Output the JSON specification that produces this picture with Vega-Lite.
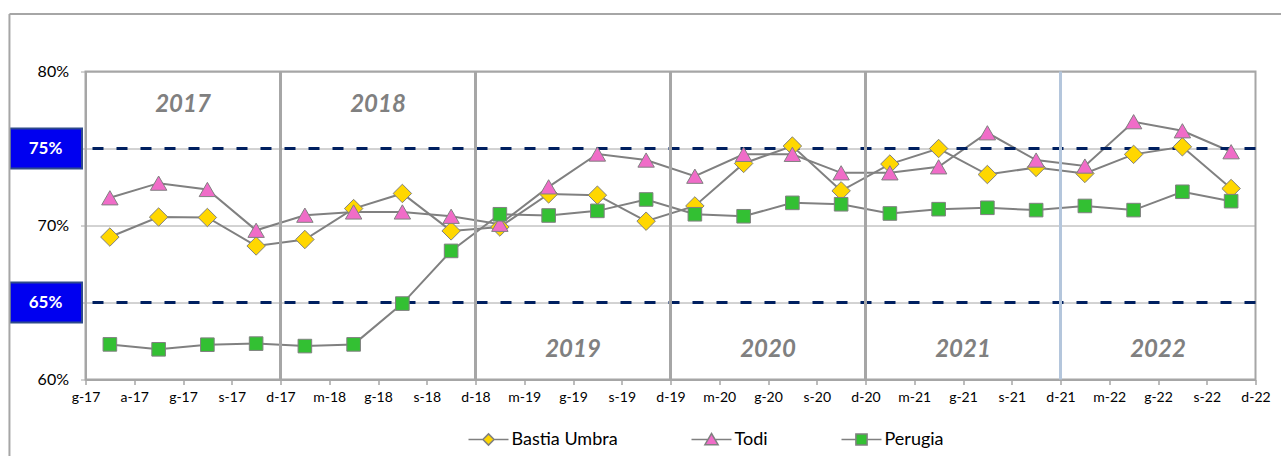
{
  "$schema": "https://vega.github.io/schema/vega-lite/v6.json",
  "width": 1170,
  "height": 308,
  "autosize": {"type": "none"},
  "padding": {"left": 85.5, "top": 71.5, "right": 25.5, "bottom": 76.5},
  "background": "white",
  "config": {
    "view": {"stroke": "#A6A6A6", "strokeWidth": 2},
    "font": "Lato",
    "axisX": {"grid": false, "tickSize": 5, "tickColor": "#A6A6A6", "tickWidth": 1.5, "domainColor": "#A6A6A6", "domainWidth": 2,
      "labelFontSize": 14, "labelColor": "#000000", "labelPadding": 6, "labelOverlap": false, "labelFlush": false, "labelBound": false, "labelFont": "Lato"},
    "axisY": {"grid": true, "gridColor": "#A6A6A6", "gridWidth": 1, "tickSize": 5, "tickColor": "#A6A6A6", "domainColor": "#A6A6A6", "domainWidth": 2,
      "labelFontSize": 16, "labelColor": "#000000", "labelPadding": 12, "labelFont": "Lato"}
  },
  "datasets": {
    "series": [
      {"p": 1, "series": "Bastia Umbra", "v": 69.25}, {"p": 2, "series": "Bastia Umbra", "v": 70.55}, {"p": 3, "series": "Bastia Umbra", "v": 70.52}, {"p": 4, "series": "Bastia Umbra", "v": 68.67},
      {"p": 5, "series": "Bastia Umbra", "v": 69.09}, {"p": 6, "series": "Bastia Umbra", "v": 71.1}, {"p": 7, "series": "Bastia Umbra", "v": 72.08}, {"p": 8, "series": "Bastia Umbra", "v": 69.65},
      {"p": 9, "series": "Bastia Umbra", "v": 69.9}, {"p": 10, "series": "Bastia Umbra", "v": 72.05}, {"p": 11, "series": "Bastia Umbra", "v": 71.97}, {"p": 12, "series": "Bastia Umbra", "v": 70.28},
      {"p": 13, "series": "Bastia Umbra", "v": 71.27}, {"p": 14, "series": "Bastia Umbra", "v": 74.03}, {"p": 15, "series": "Bastia Umbra", "v": 75.16}, {"p": 16, "series": "Bastia Umbra", "v": 72.25},
      {"p": 17, "series": "Bastia Umbra", "v": 73.99}, {"p": 18, "series": "Bastia Umbra", "v": 75.0}, {"p": 19, "series": "Bastia Umbra", "v": 73.31}, {"p": 20, "series": "Bastia Umbra", "v": 73.77},
      {"p": 21, "series": "Bastia Umbra", "v": 73.38}, {"p": 22, "series": "Bastia Umbra", "v": 74.62}, {"p": 23, "series": "Bastia Umbra", "v": 75.11}, {"p": 24, "series": "Bastia Umbra", "v": 72.4},
      {"p": 1, "series": "Todi", "v": 71.8}, {"p": 2, "series": "Todi", "v": 72.75}, {"p": 3, "series": "Todi", "v": 72.34}, {"p": 4, "series": "Todi", "v": 69.69},
      {"p": 5, "series": "Todi", "v": 70.67}, {"p": 6, "series": "Todi", "v": 70.88}, {"p": 7, "series": "Todi", "v": 70.88}, {"p": 8, "series": "Todi", "v": 70.6},
      {"p": 9, "series": "Todi", "v": 70.08}, {"p": 10, "series": "Todi", "v": 72.51}, {"p": 11, "series": "Todi", "v": 74.64}, {"p": 12, "series": "Todi", "v": 74.25},
      {"p": 13, "series": "Todi", "v": 73.2}, {"p": 14, "series": "Todi", "v": 74.62}, {"p": 15, "series": "Todi", "v": 74.62}, {"p": 16, "series": "Todi", "v": 73.42},
      {"p": 17, "series": "Todi", "v": 73.42}, {"p": 18, "series": "Todi", "v": 73.81}, {"p": 19, "series": "Todi", "v": 76.02}, {"p": 20, "series": "Todi", "v": 74.25},
      {"p": 21, "series": "Todi", "v": 73.86}, {"p": 22, "series": "Todi", "v": 76.74}, {"p": 23, "series": "Todi", "v": 76.15}, {"p": 24, "series": "Todi", "v": 74.79},
      {"p": 1, "series": "Perugia", "v": 62.28}, {"p": 2, "series": "Perugia", "v": 61.96}, {"p": 3, "series": "Perugia", "v": 62.26}, {"p": 4, "series": "Perugia", "v": 62.33},
      {"p": 5, "series": "Perugia", "v": 62.17}, {"p": 6, "series": "Perugia", "v": 62.28}, {"p": 7, "series": "Perugia", "v": 64.93}, {"p": 8, "series": "Perugia", "v": 68.35},
      {"p": 9, "series": "Perugia", "v": 70.73}, {"p": 10, "series": "Perugia", "v": 70.65}, {"p": 11, "series": "Perugia", "v": 70.95}, {"p": 12, "series": "Perugia", "v": 71.69},
      {"p": 13, "series": "Perugia", "v": 70.73}, {"p": 14, "series": "Perugia", "v": 70.6}, {"p": 15, "series": "Perugia", "v": 71.47}, {"p": 16, "series": "Perugia", "v": 71.38},
      {"p": 17, "series": "Perugia", "v": 70.78}, {"p": 18, "series": "Perugia", "v": 71.06}, {"p": 19, "series": "Perugia", "v": 71.15}, {"p": 20, "series": "Perugia", "v": 71.0},
      {"p": 21, "series": "Perugia", "v": 71.27}, {"p": 22, "series": "Perugia", "v": 71.0}, {"p": 23, "series": "Perugia", "v": 72.19}, {"p": 24, "series": "Perugia", "v": 71.58}
    ],
    "years": [
      {"year": "2017", "mid": 2.5, "end": 4.5},
      {"year": "2018", "mid": 6.5, "end": 8.5},
      {"year": "2019", "mid": 10.5, "end": 12.5},
      {"year": "2020", "mid": 14.5, "end": 16.5},
      {"year": "2021", "mid": 18.5, "end": 20.5},
      {"year": "2022", "mid": 22.5, "end": 24.5}
    ],
    "thresholds": [
      {"label": "75%", "v": 75},
      {"label": "65%", "v": 65}
    ],
    "frame": [{"part": "frame"}]
  },
  "layer": [
    {
      "data": {"name": "series"},
      "mark": {"type": "line", "color": "#808080", "strokeWidth": 2},
      "encoding": {
        "x": {"field": "p", "type": "quantitative", "title": null, "scale": {"domain": [0.5, 24.5], "nice": false, "zero": false},
          "axis": {"values": [0.5, 1.5, 2.5, 3.5, 4.5, 5.5, 6.5, 7.5, 8.5, 9.5, 10.5, 11.5, 12.5, 13.5, 14.5, 15.5, 16.5, 17.5, 18.5, 19.5, 20.5, 21.5, 22.5, 23.5, 24.5],
            "labelExpr": "['g-17','a-17','g-17','s-17','d-17','m-18','g-18','s-18','d-18','m-19','g-19','s-19','d-19','m-20','g-20','s-20','d-20','m-21','g-21','s-21','d-21','m-22','g-22','s-22','d-22'][round(datum.value - 0.5)]", "title": null}},
        "y": {"field": "v", "type": "quantitative", "title": null, "scale": {"domain": [60, 80], "nice": false, "zero": false},
          "axis": {"values": [60, 65, 70, 75, 80], "labelExpr": "datum.value % 10 == 5 ? '' : datum.value + '%'", "title": null}},
        "detail": {"field": "series", "type": "nominal"}
      }
    },
    {
      "data": {"name": "thresholds"},
      "mark": {"type": "rule", "color": "#002060", "strokeWidth": 3, "strokeDash": [11, 13]},
      "encoding": {
        "y": {"field": "v", "type": "quantitative", "title": null, "scale": {"domain": [60, 80], "nice": false, "zero": false}}
      }
    },
    {
      "data": {"name": "years"},
      "transform": [{"filter": "datum.year != '2022'"}],
      "mark": {"type": "rule", "strokeWidth": 3},
      "encoding": {
        "x": {"field": "end", "type": "quantitative", "title": null, "scale": {"domain": [0.5, 24.5], "nice": false, "zero": false}},
        "color": {"condition": {"test": "datum.year == '2021'", "value": "#B4C6DC"}, "value": "#A6A6A6"}
      }
    },
    {
      "data": {"name": "years"},
      "transform": [{"filter": "datum.year == '2017' || datum.year == '2018'"}],
      "mark": {"type": "text", "font": "Lato", "fontSize": 24, "fontStyle": "italic", "fontWeight": "bold", "color": "#808080", "align": "center", "baseline": "middle"},
      "encoding": {
        "x": {"field": "mid", "type": "quantitative", "title": null, "scale": {"domain": [0.5, 24.5], "nice": false, "zero": false}},
        "y": {"datum": 77.82, "type": "quantitative", "title": null, "scale": {"domain": [60, 80], "nice": false, "zero": false}},
        "text": {"field": "year"}
      }
    },
    {
      "data": {"name": "years"},
      "transform": [{"filter": "datum.year != '2017' && datum.year != '2018'"}],
      "mark": {"type": "text", "font": "Lato", "fontSize": 24, "fontStyle": "italic", "fontWeight": "bold", "color": "#808080", "align": "center", "baseline": "middle"},
      "encoding": {
        "x": {"field": "mid", "type": "quantitative", "title": null, "scale": {"domain": [0.5, 24.5], "nice": false, "zero": false}},
        "y": {"datum": 61.89, "type": "quantitative", "title": null, "scale": {"domain": [60, 80], "nice": false, "zero": false}},
        "text": {"field": "year"}
      }
    },
    {
      "data": {"name": "series"},
      "transform": [{"filter": "false"}],
      "mark": {"type": "point", "filled": false, "opacity": 1, "strokeWidth": 1.5},
      "encoding": {
        "x": {"field": "p", "type": "quantitative", "title": null, "scale": {"domain": [0.5, 24.5], "nice": false, "zero": false}},
        "y": {"field": "v", "type": "quantitative", "title": null, "scale": {"domain": [60, 80], "nice": false, "zero": false}},
        "fill": {"field": "series", "type": "nominal",
          "scale": {"domain": ["Bastia Umbra", "Todi", "Perugia"], "range": ["#FFD700", "#F06CC8", "#33C033"]},
          "legend": {"orient": "none", "legendX": 382, "legendY": 347, "direction": "horizontal", "title": null, "padding": 0,
            "labelFont": "Lato", "labelFontSize": 18, "labelColor": "#000000", "labelOffset": 2,
            "symbolSize": 1600, "symbolOpacity": 1, "columnPadding": 70, "symbolStrokeWidth": 1.5}},
        "stroke": {"field": "series", "type": "nominal",
          "scale": {"domain": ["Bastia Umbra", "Todi", "Perugia"], "range": ["#808080", "#808080", "#808080"]},
          "legend": {"orient": "none", "legendX": 382, "legendY": 347, "direction": "horizontal", "title": null, "padding": 0,
            "labelFont": "Lato", "labelFontSize": 18, "labelColor": "#000000", "labelOffset": 2,
            "symbolSize": 1600, "symbolOpacity": 1, "columnPadding": 70, "symbolStrokeWidth": 1.5}},
        "shape": {"field": "series", "type": "nominal",
          "scale": {"domain": ["Bastia Umbra", "Todi", "Perugia"],
            "range": ["M-1,0L-0.28,0M0.28,0L1,0M0,-0.28L0.28,0L0,0.28L-0.28,0Z",
                      "M-1,0L-0.15,0M0.15,0L1,0M0,-0.3L0.33,0.26L-0.33,0.26Z",
                      "M-1,0L-0.28,0M0.28,0L1,0M-0.28,-0.28L0.28,-0.28L0.28,0.28L-0.28,0.28Z"]},
          "legend": {"orient": "none", "legendX": 382, "legendY": 347, "direction": "horizontal", "title": null, "padding": 0,
            "labelFont": "Lato", "labelFontSize": 18, "labelColor": "#000000", "labelOffset": 2,
            "symbolSize": 1600, "symbolOpacity": 1, "columnPadding": 70, "symbolStrokeWidth": 1.5}}
      }
    },
    {
      "data": {"name": "series"},
      "transform": [{"filter": "datum.series == 'Bastia Umbra'"}],
      "mark": {"type": "point", "filled": true, "opacity": 1, "shape": "diamond", "size": 340, "fill": "#FFD700", "stroke": "#808080", "strokeWidth": 1},
      "encoding": {
        "x": {"field": "p", "type": "quantitative", "title": null, "scale": {"domain": [0.5, 24.5], "nice": false, "zero": false}},
        "y": {"field": "v", "type": "quantitative", "title": null, "scale": {"domain": [60, 80], "nice": false, "zero": false}}
      }
    },
    {
      "data": {"name": "series"},
      "transform": [{"filter": "datum.series == 'Todi'"}],
      "mark": {"type": "point", "filled": true, "opacity": 1, "shape": "triangle-up", "size": 270, "fill": "#F06CC8", "stroke": "#808080", "strokeWidth": 1},
      "encoding": {
        "x": {"field": "p", "type": "quantitative", "title": null, "scale": {"domain": [0.5, 24.5], "nice": false, "zero": false}},
        "y": {"field": "v", "type": "quantitative", "title": null, "scale": {"domain": [60, 80], "nice": false, "zero": false}}
      }
    },
    {
      "data": {"name": "series"},
      "transform": [{"filter": "datum.series == 'Perugia'"}],
      "mark": {"type": "point", "filled": true, "opacity": 1, "shape": "square", "size": 185, "fill": "#33C033", "stroke": "#808080", "strokeWidth": 1},
      "encoding": {
        "x": {"field": "p", "type": "quantitative", "title": null, "scale": {"domain": [0.5, 24.5], "nice": false, "zero": false}},
        "y": {"field": "v", "type": "quantitative", "title": null, "scale": {"domain": [60, 80], "nice": false, "zero": false}}
      }
    },
    {
      "data": {"name": "thresholds"},
      "mark": {"type": "point", "filled": true, "opacity": 1, "shape": "M-1.8,-1L1.8,-1L1.8,1L-1.8,1Z", "size": 1600, "fill": "#0000F0", "stroke": "#2E4A8C", "strokeWidth": 2, "xOffset": -39.5},
      "encoding": {
        "x": {"datum": 0.5, "type": "quantitative", "title": null, "scale": {"domain": [0.5, 24.5], "nice": false, "zero": false}},
        "y": {"field": "v", "type": "quantitative", "title": null, "scale": {"domain": [60, 80], "nice": false, "zero": false}}
      }
    },
    {
      "data": {"name": "thresholds"},
      "mark": {"type": "text", "font": "Lato", "fontSize": 17, "fontWeight": "bold", "color": "#FFFFFF", "align": "center", "baseline": "middle", "dx": -40},
      "encoding": {
        "x": {"datum": 0.5, "type": "quantitative", "title": null, "scale": {"domain": [0.5, 24.5], "nice": false, "zero": false}},
        "y": {"field": "v", "type": "quantitative", "title": null, "scale": {"domain": [60, 80], "nice": false, "zero": false}},
        "text": {"field": "label"}
      }
    },
    {
      "data": {"name": "frame"},
      "mark": {"type": "rule", "color": "#A6A6A6", "strokeWidth": 2},
      "encoding": {
        "x": {"datum": -1.06, "type": "quantitative", "title": null, "scale": {"domain": [0.5, 24.5], "nice": false, "zero": false}},
        "x2": {"datum": 25.5},
        "y": {"datum": 83.74, "type": "quantitative", "title": null, "scale": {"domain": [60, 80], "nice": false, "zero": false}}
      }
    },
    {
      "data": {"name": "frame"},
      "mark": {"type": "rule", "color": "#A6A6A6", "strokeWidth": 2},
      "encoding": {
        "x": {"datum": -1.06, "type": "quantitative", "title": null, "scale": {"domain": [0.5, 24.5], "nice": false, "zero": false}},
        "y": {"datum": 83.74, "type": "quantitative", "title": null, "scale": {"domain": [60, 80], "nice": false, "zero": false}},
        "y2": {"datum": 54.9}
      }
    }
  ]
}
